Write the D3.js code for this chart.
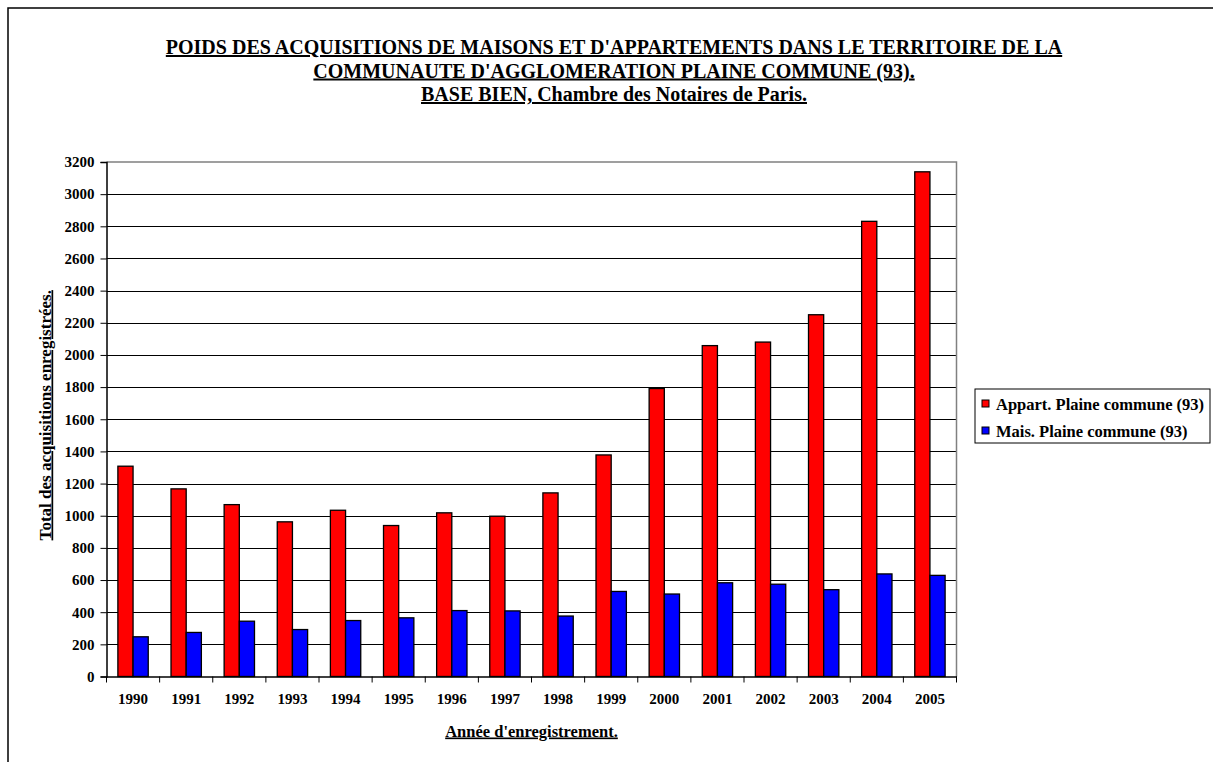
<!DOCTYPE html>
<html>
<head>
<meta charset="utf-8">
<script src="https://cdn.jsdelivr.net/npm/d3@7"></script>
<style>
  body { margin: 0; background: #fff; }
</style>
</head>
<body>
<div id="chart"></div>
<script>
// data
const years = ["1990","1991","1992","1993","1994","1995","1996","1997","1998","1999","2000","2001","2002","2003","2004","2005"];
const seriesNames = ["Appart. Plaine commune (93)", "Mais. Plaine commune (93)"];
const appart = [1308, 1167, 1069, 962, 1034, 939, 1018, 997, 1142, 1378, 1791, 2058, 2080, 2250, 2831, 3139];
const maisons = [247, 274, 344, 292, 348, 365, 410, 408, 376, 529, 513, 583, 574, 540, 638, 629];
const seriesColors = ["#ff0000", "#0000ff"];
const yTicks = d3.range(0, 3201, 200);
const titleLines = [
    "POIDS DES ACQUISITIONS DE MAISONS ET D'APPARTEMENTS DANS LE TERRITOIRE DE LA",
    "COMMUNAUTE D'AGGLOMERATION PLAINE COMMUNE (93). ",
    "BASE BIEN, Chambre des Notaires de Paris."
];

const FONT = "'Liberation Serif', 'Times New Roman', Times, serif";
const W = 1213, H = 762;
const margin = { top: 162, right: 256.5, bottom: 85.5, left: 106.5 };
const width = W - margin.left - margin.right;
const height = H - margin.top - margin.bottom;

const svg = d3.select("#chart").append("svg")
    .attr("width", W)
    .attr("height", H)
    .attr("font-family", FONT)
    .attr("font-weight", "bold");

// outer frame (runs off the page on the right and bottom)
svg.append("rect")
    .attr("x", 8).attr("y", 8)
    .attr("width", W + 20).attr("height", H + 20)
    .attr("fill", "none")
    .attr("stroke", "#000")
    .attr("stroke-width", 1.5);

// title
svg.append("g")
    .selectAll("text")
    .data(titleLines)
    .join("text")
    .attr("x", 614)
    .attr("y", (d, i) => 54 + i * 23.5)
    .attr("text-anchor", "middle")
    .attr("font-size", 20)
    .style("text-decoration", "underline")
    .text(d => d);

const g = svg.append("g")
    .attr("transform", `translate(${margin.left},${margin.top})`);

const x = d3.scaleBand().domain(years).range([0, width]).padding(0);
const x1 = d3.scaleBand().domain(seriesNames).range([0, x.bandwidth()])
    .paddingInner(0).paddingOuter(0.75);
const y = d3.scaleLinear().domain([0, 3200]).range([height, 0]);

// gridlines
g.append("g")
    .selectAll("line")
    .data(yTicks.filter(d => d > 0 && d < 3200))
    .join("line")
    .attr("x1", 0).attr("x2", width)
    .attr("y1", d => Math.round(y(d)) + 0.5)
    .attr("y2", d => Math.round(y(d)) + 0.5)
    .attr("stroke", "#000")
    .attr("stroke-width", 1);

// plot border top/right in grey
g.append("path")
    .attr("d", `M0,${y(3200)}H${width}V${height}`)
    .attr("fill", "none")
    .attr("stroke", "#808080")
    .attr("stroke-width", 1.5);

// bars
const rows = years.map((yr, i) => ({ year: yr, values: [appart[i], maisons[i]] }));

const groups = g.selectAll(".grp")
    .data(rows)
    .join("g")
    .attr("class", "grp")
    .attr("transform", d => `translate(${x(d.year)},0)`);

groups.selectAll("rect")
    .data(d => d.values.map((v, k) => ({ key: seriesNames[k], value: v, k: k })))
    .join("rect")
    .attr("x", d => x1(d.key))
    .attr("width", x1.bandwidth())
    .attr("y", d => y(d.value))
    .attr("height", d => y(0) - y(d.value))
    .attr("fill", d => seriesColors[d.k])
    .attr("stroke", "#000")
    .attr("stroke-width", 1.3);

// y axis
const yAxis = g.append("g")
    .call(d3.axisLeft(y).tickValues(yTicks).tickFormat(d3.format("d")).tickSize(6).tickPadding(6));
yAxis.attr("font-family", FONT).attr("font-size", 15);
yAxis.select(".domain").attr("stroke", "#000").attr("stroke-width", 1.5);
yAxis.selectAll(".tick line").attr("stroke", "#000");

// x axis with ticks between categories
const xAxis = g.append("g")
    .attr("transform", `translate(0,${height})`)
    .call(d3.axisBottom(x).tickSize(0).tickPadding(17));
xAxis.attr("font-family", FONT).attr("font-size", 15);
xAxis.select(".domain").attr("stroke", "#000").attr("stroke-width", 1.5);
xAxis.append("g")
    .selectAll("line")
    .data(years.concat(["end"]))
    .join("line")
    .attr("x1", (d, i) => i * x.step())
    .attr("x2", (d, i) => i * x.step())
    .attr("y1", 0).attr("y2", 6)
    .attr("stroke", "#000");

// axis titles
g.append("text")
    .attr("x", width / 2)
    .attr("y", height + 60)
    .attr("text-anchor", "middle")
    .attr("font-size", 16.5)
    .style("text-decoration", "underline")
    .text("Année d'enregistrement.");

g.append("text")
    .attr("transform", "rotate(-90)")
    .attr("x", -height / 2 + 4)
    .attr("y", -56)
    .attr("text-anchor", "middle")
    .attr("font-size", 17)
    .style("text-decoration", "underline")
    .text("Total des acquisitions enregistrées.");

// legend
const legend = svg.append("g").attr("transform", "translate(975,389)");
legend.append("rect")
    .attr("width", 235).attr("height", 54)
    .attr("fill", "#fff")
    .attr("stroke", "#000")
    .attr("stroke-width", 1);
const items = legend.selectAll(".item")
    .data(seriesNames)
    .join("g")
    .attr("class", "item")
    .attr("transform", (d, i) => `translate(0,${15 + i * 27})`);
items.append("rect")
    .attr("x", 7).attr("y", -4)
    .attr("width", 7).attr("height", 7)
    .attr("fill", (d, i) => seriesColors[i])
    .attr("stroke", "#000");
items.append("text")
    .attr("x", 21)
    .attr("y", 6)
    .attr("font-size", 16.5)
    .text(d => d);
</script>
</body>
</html>
